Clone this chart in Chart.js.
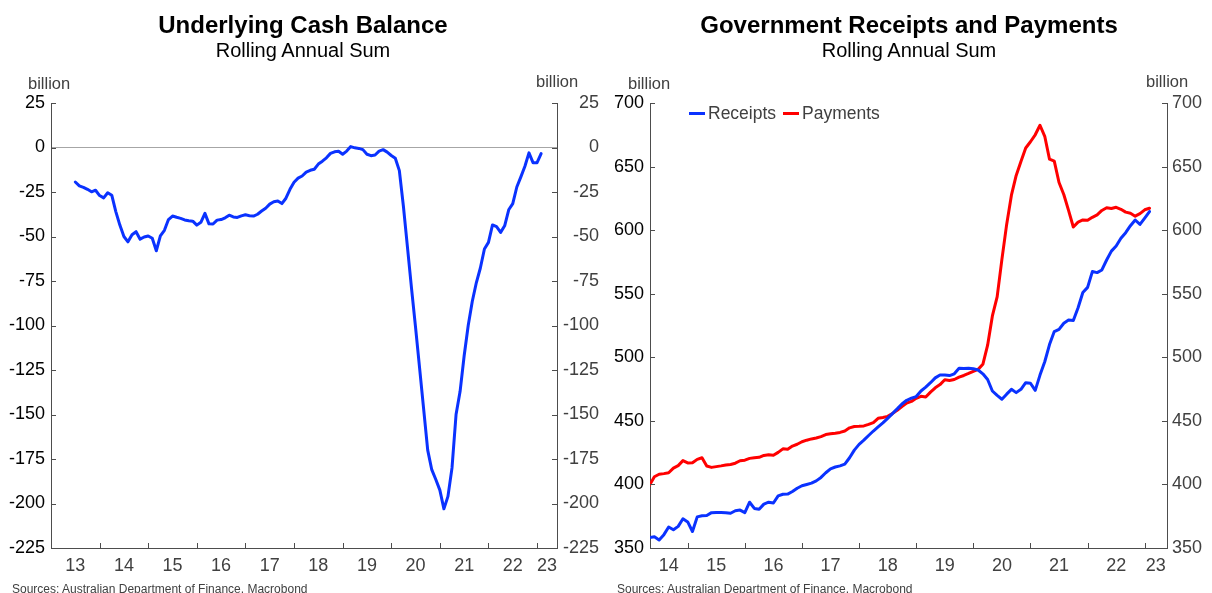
<!DOCTYPE html>
<html><head><meta charset="utf-8">
<script src="https://cdn.jsdelivr.net/npm/chart.js@4/dist/chart.umd.min.js"></script>
<style>
html,body{margin:0;padding:0;background:#fff;}
body{width:1212px;height:593px;position:relative;overflow:hidden;font-family:'Liberation Sans',Arial,sans-serif;}
.t{position:absolute;white-space:nowrap;line-height:1;}
canvas{position:absolute;top:0;}
</style></head><body>
<canvas id="c1" width="606" height="593" style="left:0"></canvas>
<canvas id="c2" width="606" height="593" style="left:606px"></canvas>
<div class="t" style="left:0;width:606px;text-align:center;top:13px;font-weight:bold;font-size:24px;color:#000">Underlying Cash Balance</div>
<div class="t" style="left:0;width:606px;text-align:center;top:40px;font-size:20px;color:#000">Rolling Annual Sum</div>
<div class="t" style="left:606px;width:606px;text-align:center;top:13px;font-weight:bold;font-size:24px;color:#000">Government Receipts and Payments</div>
<div class="t" style="left:606px;width:606px;text-align:center;top:40px;font-size:20px;color:#000">Rolling Annual Sum</div>
<div class="t" style="left:28px;top:75px;font-size:16.5px;color:#404040">billion</div>
<div class="t" style="left:536px;top:73px;font-size:16.5px;color:#404040">billion</div>
<div class="t" style="left:628px;top:75px;font-size:16.5px;color:#404040">billion</div>
<div class="t" style="left:1146px;top:73px;font-size:16.5px;color:#404040">billion</div>
<div style="position:absolute;left:689px;top:112px;width:16px;height:3px;background:#0a32ff"></div>
<div class="t" style="left:708px;top:104.5px;font-size:17.5px;color:#404040">Receipts</div>
<div style="position:absolute;left:783px;top:112px;width:16px;height:3px;background:#ff0000"></div>
<div class="t" style="left:802px;top:104.5px;font-size:17.5px;color:#404040">Payments</div>
<div class="t" style="left:12px;top:583px;font-size:12px;color:#404040">Sources: Australian Department of Finance, Macrobond</div>
<div class="t" style="left:617px;top:583px;font-size:12px;color:#404040">Sources: Australian Department of Finance, Macrobond</div>
<script>
const FONT = "'Liberation Sans', Arial, sans-serif";
const BLUE = '#0a32ff';
const RED = '#ff0000';

// Underlying cash balance, rolling annual sum, monthly from Jul 2013
const cashStart = [2013, 7];
const cashBalance = [
 -19.4,-21.6,-22.4,-23.5,-24.9,-24,-27,-28.3,-25.4,-26.8,
 -36,-43.6,-50,-53,-49,-47.3,-51.5,-50.3,-49.7,-51,
 -58,-49.6,-46.5,-40.5,-38.5,-39.2,-39.8,-40.7,-41.2,-41.4,
 -43.6,-42,-37,-42.9,-43,-40.8,-40.5,-39.5,-38,-39,
 -39.3,-38.4,-37.8,-38.3,-38.5,-37.5,-35.7,-34.1,-31.8,-30.5,
 -30.1,-31.5,-28.5,-23.5,-19.5,-17.2,-16,-13.8,-12.8,-12.2,
 -9.3,-7.7,-5.8,-3.3,-2.4,-2.1,-3.8,-2,0.5,-0.2,
 -0.5,-1.2,-3.8,-4.6,-4.2,-2,-1.2,-2.6,-4.5,-6,
 -13,-33,-56,-79,-101,-124,-147,-170,-181,-186.5,
 -192.5,-203,-196,-180,-150,-137,-117,-100,-86.5,-76,
 -67.7,-57,-53.3,-43.5,-44.5,-47.7,-44,-35,-31.5,-22.2,
 -16.5,-10.5,-3,-8.5,-8.5,-3.4
];

// Government receipts and payments, rolling annual sum, monthly from May 2014
const flowStart = [2014, 5];
const receipts = [
 358.3,358.8,356.3,360.5,366.5,364.3,367,373,370.5,363,
 374.5,375.3,375.6,377.8,377.9,377.9,377.8,377.3,379.3,379.8,
 377.8,386,381.1,380.4,384.5,386,385.4,391,392.3,392.4,
 394.4,397,399,400,401,402.8,405.5,409.2,412.3,413.7,
 414.6,416,421,427,431.5,434.8,438.5,442,445.2,448.4,
 452,455.7,459.4,463.3,466.2,467.8,469.1,473.5,476.5,480,
 483.8,486.1,486.1,485.6,487,491.4,491.1,491.3,491,490,
 487,482.5,473.5,470,467,471,474.8,472.2,474.8,480,
 479.6,474,486,496.5,510,520.2,522,526.8,529.3,529,
 539,551,555,567.4,566.6,568.7,576.5,583.5,587.5,593.6,
 598,603.5,608,604.5,609.5,614.6
];
const payments = [
 399.5,406,408,408.5,409.2,412.8,414.8,418.7,416.9,417,
 419.7,421,414.5,413.4,414,414.6,415.3,415.7,416.7,418.6,
 419.1,420.5,421,421.3,422.8,423.3,422.9,425.2,428,427.7,
 430.2,431.6,433.6,434.8,435.8,436.5,437.6,439.2,439.8,440.3,
 440.9,442,444.5,445.6,445.7,446,447.2,448.6,452,452.7,
 453.5,455.7,458.3,461.3,464,465.3,467.7,469.3,468.7,472.6,
 476,478.5,482.3,481.8,482.5,484.4,485.7,487.3,489,490.5,
 494.5,509.5,532.5,547.5,577,604.5,627.5,643,654,664.6,
 669.5,675,682.5,673.8,655.8,654.3,637.5,628,615.5,602.5,
 606.3,608,607.7,610.1,612,615.5,617.6,617,618,616.4,
 614.2,613.3,611,613,616,617.2
];

const cashXLabels = ['13','14','15','16','17','18','19','20','21','22','23'];
const flowXLabels = ['14','15','16','17','18','19','20','21','22','23'];
const cashYAxis = {min: -225, max: 25, step: 25};
const flowYAxis = {min: 350, max: 700, step: 50};

function toPoints(start, values) {
  return values.map((v, i) => ({x: start[0] + (start[1] - 1 + i) / 12, y: v}));
}

const innerTicks = {
  id: 'innerTicks',
  afterDraw(chart) {
    const ctx = chart.ctx, a = chart.chartArea;
    ctx.save();
    ctx.strokeStyle = '#4d4d4d';
    ctx.lineWidth = 1;
    ['y', 'y2'].forEach(id => {
      const s = chart.scales[id];
      const isLeft = s.position === 'left';
      s.ticks.forEach(t => {
        const py = Math.round(s.getPixelForValue(t.value)) + 0.5;
        const x0 = isLeft ? a.left : a.right;
        ctx.beginPath();
        ctx.moveTo(x0, py);
        ctx.lineTo(x0 + (isLeft ? 5 : -5), py);
        ctx.stroke();
      });
    });
    const xs = chart.scales.x;
    for (let yr = Math.ceil(xs.min); yr <= Math.floor(xs.max); yr++) {
      const px = Math.round(xs.getPixelForValue(yr)) + 0.5;
      ctx.beginPath();
      ctx.moveTo(px, a.bottom);
      ctx.lineTo(px, a.bottom - 5);
      ctx.stroke();
    }
    ctx.restore();
  }
};

function makeChart(id, cfg) {
  const yTicks = (color) => ({
    color: color, padding: 6, stepSize: cfg.y.step,
    font: {family: FONT, size: 18}
  });
  const base = {
    type: 'line',
    data: {datasets: cfg.datasets},
    options: {
      responsive: false, animation: false, devicePixelRatio: 1,
      layout: {padding: {top: 103, right: cfg.padRight, bottom: 0, left: 0}},
      plugins: {legend: {display: false}, tooltip: {enabled: false}},
      elements: {point: {radius: 0}, line: {tension: 0, borderWidth: 3, borderJoinStyle: 'round', borderCapStyle: 'round'}},
      scales: {
        x: {
          type: 'linear', min: cfg.x.min, max: cfg.x.max,
          afterBuildTicks: (s) => {
            s.ticks = cfg.x.labels.map((l, k) => {
              const y0 = cfg.x.first + k;
              const lo = Math.max(y0, cfg.x.min), hi = Math.min(y0 + 1, cfg.x.max);
              return {value: (lo + hi) / 2};
            });
          },
          afterFit: (s) => { s.height = cfg.xHeight; },
          ticks: {
            autoSkip: false, maxRotation: 0, padding: 7, color: '#404040',
            font: {family: FONT, size: 18},
            callback: (v, i) => cfg.x.labels[i]
          },
          grid: {display: true, drawOnChartArea: false, drawTicks: false, color: 'rgba(0,0,0,0)'},
          border: {display: true, color: '#4d4d4d', width: 1}
        },
        y: {
          position: 'left', min: cfg.y.min, max: cfg.y.max,
          afterFit: (s) => { s.width = cfg.yLeftWidth; },
          ticks: yTicks('#000'),
          grid: {display: true, drawTicks: false, drawOnChartArea: cfg.zeroLine,
                 color: (c) => (c.tick && c.tick.value === 0) ? '#a6a6a6' : 'rgba(0,0,0,0)', lineWidth: 1},
          border: {display: true, color: '#4d4d4d', width: 1}
        },
        y2: {
          position: 'right', min: cfg.y.min, max: cfg.y.max,
          afterFit: (s) => { s.width = cfg.yRightWidth; },
          ticks: Object.assign(yTicks('#404040'), {crossAlign: 'far'}),
          grid: {display: true, drawTicks: false, drawOnChartArea: false, color: 'rgba(0,0,0,0)'},
          border: {display: true, color: '#4d4d4d', width: 1}
        }
      }
    },
    plugins: [innerTicks]
  };
  return new Chart(document.getElementById(id), base);
}

makeChart('c1', {
  datasets: [{label: 'Underlying Cash Balance', data: toPoints(cashStart, cashBalance), borderColor: BLUE, backgroundColor: BLUE, yAxisID: 'y'}],
  x: {min: 2013, max: 2023.41, first: 2013, labels: cashXLabels},
  y: cashYAxis, padRight: 7, yLeftWidth: 51, yRightWidth: 42, xHeight: 45, zeroLine: true
});

makeChart('c2', {
  datasets: [
    {label: 'Receipts', data: toPoints(flowStart, receipts), borderColor: BLUE, backgroundColor: BLUE, yAxisID: 'y'},
    {label: 'Payments', data: toPoints(flowStart, payments), borderColor: RED, backgroundColor: RED, yAxisID: 'y'}
  ],
  x: {min: 2014.34, max: 2023.39, first: 2014, labels: flowXLabels},
  y: flowYAxis, padRight: 10, yLeftWidth: 44, yRightWidth: 35, xHeight: 45, zeroLine: false
});
</script>
</body></html>
